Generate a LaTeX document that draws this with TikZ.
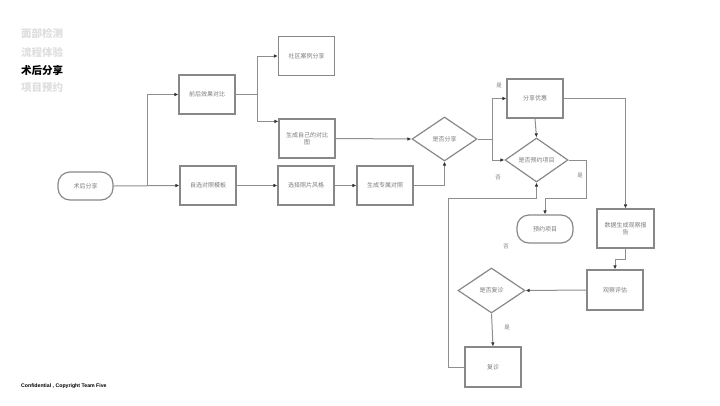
\documentclass[tikz,border=0pt]{standalone}
\usepackage{fontspec}
\setmainfont{Noto Sans CJK SC}
\newfontfamily\latfont{Liberation Sans}
\usetikzlibrary{shapes.geometric,arrows.meta,calc}
\definecolor{lineg}{HTML}{8E8E8E}
\definecolor{boxg}{HTML}{888888}
\definecolor{txtg}{HTML}{7A7A7A}
\definecolor{arrc}{HTML}{333333}
\definecolor{menug}{HTML}{DEDEDE}
\begin{document}
\begin{tikzpicture}[x=1pt,y=-1pt,
  box/.style={draw=boxg, line width=1.2pt, minimum width=56pt, minimum height=39pt, inner sep=1pt,
    font=\fontsize{6}{7.5}\selectfont, text=txtg, align=center},
  term/.style={box, rounded corners=12pt, minimum height=28pt},
  dec/.style={diamond, draw=boxg, line width=1.2pt, aspect=1.5, minimum width=65pt, minimum height=44pt,
    inner sep=0pt, font=\fontsize{6}{7.5}\selectfont, text=txtg, align=center},
  conn/.style={draw=lineg, line width=1pt, -{Latex[length=4pt,width=3.6pt,color=arrc]}},
  plain/.style={draw=lineg, line width=1pt},
  lbl/.style={font=\fontsize{5.5}{6}\selectfont, text=txtg},
  menu/.style={anchor=west, font=\fontsize{10.5}{12}\selectfont\bfseries, inner sep=0pt}
]
\useasboundingbox (0,0) rectangle (720,405);

% menu
\node[menu, text=menug] (m1) at (21,33) {面部检测};
\node[menu, text=menug] (m2) at (21,52) {流程体验};
\node[menu, text=black] (m3) at (21,70.5) {术后分享};
\node[menu, text=menug] (m4) at (21,88) {项目预约};
\node[anchor=west, inner sep=0pt, font=\latfont\bfseries\fontsize{5.2}{6}\selectfont] (foot) at (21,386.5) {Confidential , Copyright Team Five};

% nodes
\node[term, minimum width=55pt] (start) at (85.5,186) {术后分享};
\node[box] (b1) at (207,94.5) {前后效果对比};
\node[box] (b2) at (208,185.5) {自选对照模板};
\node[box] (c1) at (306.5,56) {社区案例分享};
\node[box] (c2) at (307,138.5) {生成自己的对比\\图};
\node[box] (c3) at (306,185.5) {选择照片风格};
\node[box] (c4) at (385,185.5) {生成专属对照};
\node[dec] (d1) at (444.5,139) {是否分享};
\node[box] (e1) at (535,98.5) {分享优惠};
\node[dec, minimum width=63pt] (d2) at (536.5,160) {是否预约项目};
\node[term] (t2) at (545,229) {预约项目};
\node[box, minimum width=57pt] (f1) at (625.5,228.5) {数据生成观察报\\告};
\node[box, minimum height=40pt] (f2) at (615,290) {观察评估};
\node[dec, minimum width=67pt, minimum height=45pt] (d3) at (491.5,290.5) {是否复诊};
\node[box, minimum height=40pt] (g1) at (493,367) {复诊};

% junctions
\coordinate (j1) at (147,186);
\coordinate (j2) at (257,94.5);
\coordinate (j3) at (492,139);
\coordinate (j4) at (586,198);
\coordinate (j5) at (448,198);

% connectors
\draw[conn] (start.east) -- (b2.west);
\draw[conn] (j1) |- (b1.west);
\draw[plain] (b1.east) -- (j2);
\draw[conn] (j2) |- (c1.west);
\draw[conn] (j2) |- ([yshift=-3pt]c2.north west);
\draw[conn] (b2.east) -- (c3.west);
\draw[conn] (c3.east) -- (c4.west);
\draw[conn] (c4.east) -| (d1.south);
\draw[conn] (c2.east) -- (d1.west);
\draw[plain] (d1.east) -- (j3);
\draw[conn] (j3) |- (e1.west);
\draw[conn] (j3) |- (d2.west);
\draw[conn] (e1.south) -- (d2.north);
\draw[conn] (e1.east) -| (f1.north);
\draw[conn] (d2.east) -| (j4) -| (t2.north);
\draw[conn] (f1.south) -- ++(0,11) -| (f2.north);
\draw[conn] (f2.west) -- (d3.east);
\draw[conn] (d3.south) -- (g1.north);
\draw[conn] (g1.west) -| (j5) -| (d2.south);

% labels
\node[lbl] (l1) at (499,86) {是};
\node[lbl] (l2) at (498,178) {否};
\node[lbl] (l3) at (580,176) {是};
\node[lbl] (l4) at (506,247) {否};
\node[lbl] (l5) at (507,328) {是};
\end{tikzpicture}
\end{document}
